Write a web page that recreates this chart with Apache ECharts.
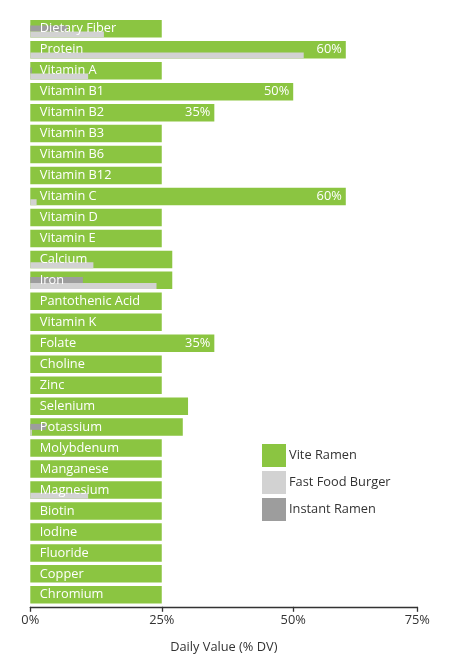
<!DOCTYPE html>
<html>
<head>
<meta charset="utf-8">
<script src="https://cdn.jsdelivr.net/npm/echarts@6.0.0/dist/echarts.min.js"></script>
<style>
  html, body { margin: 0; padding: 0; background: #fff; }
  #chart { width: 458px; height: 666px; }
</style>
</head>
<body>
<div id="chart"></div>
<script>
// nutrients, top to bottom
const nutrients = [
  'Dietary Fiber', 'Protein', 'Vitamin A', 'Vitamin B1', 'Vitamin B2', 'Vitamin B3',
  'Vitamin B6', 'Vitamin B12', 'Vitamin C', 'Vitamin D', 'Vitamin E', 'Calcium',
  'Iron', 'Pantothenic Acid', 'Vitamin K', 'Folate', 'Choline', 'Zinc',
  'Selenium', 'Potassium', 'Molybdenum', 'Manganese', 'Magnesium', 'Biotin',
  'Iodine', 'Fluoride', 'Copper', 'Chromium'
];

// % daily value
const viteRamen = [25, 60, 25, 50, 35, 25, 25, 25, 60, 25, 25, 27, 27, 25, 25, 35, 25, 25, 30, 29, 25, 25, 25, 25, 25, 25, 25, 25];
const fastFoodBurger = [14, 52, 11, 0, 0, 0, 0, 0, 1.2, 0, 0, 12, 24, 0, 0, 0, 0, 0, 0, 0.3, 0, 0, 11, 0, 0, 0, 0, 0];
const instantRamen = [7, 0, 0.3, 0, 0, 0, 0, 0, 0, 0, 0, 0, 10, 0, 0, 0, 0, 0, 0, 3, 0, 0, 0, 0, 0, 0, 0, 0];

// x axis ticks
const tickValues = [0, 25, 50, 73.6];
const tickLabels = ['0%', '25%', '50%', '75%'];

const GREEN = '#8BC541';
const LIGHT = '#D2D2D2';
const DARK = '#9D9D9D';
const FONT = 'Open Sans';
const FONT_SIZE = 12.8;

const gridBase = { left: 30.3, right: 40.7, top: 18.3, height: 587 };

function valueAxis(idx, visible) {
  return {
    type: 'value',
    gridIndex: idx,
    min: 0,
    max: 73.6,
    show: visible,
    splitLine: { show: false },
    axisLine: { show: visible, lineStyle: { color: '#333', width: 1.3 } },
    axisTick: { show: visible, length: 5, customValues: tickValues, lineStyle: { color: '#333', width: 1.3 } },
    axisLabel: {
      show: visible,
      customValues: tickValues,
      margin: 7,
      color: '#333',
      fontFamily: FONT,
      fontSize: FONT_SIZE,
      formatter: v => tickLabels[tickValues.indexOf(v)]
    },
    name: visible ? 'Daily Value (% DV)' : '',
    nameLocation: 'middle',
    nameGap: 34,
    nameTextStyle: { color: '#333', fontFamily: FONT, fontSize: FONT_SIZE },
    offset: visible ? 1.5 : 0
  };
}

let chartConfig = {
  animation: false,
  textStyle: { fontFamily: FONT },
  grid: [
    Object.assign({}, gridBase),
    // second grid shifted down so the thin bars sit on the bottom of the green bar
    Object.assign({}, gridBase, { top: gridBase.top + 2.75 })
  ],
  legend: {
    data: ['Vite Ramen', 'Fast Food Burger', 'Instant Ramen'],
    orient: 'vertical',
    left: 262,
    top: 444,
    padding: 0,
    itemWidth: 24,
    itemHeight: 23,
    itemGap: 4,
    icon: 'rect',
    textStyle: { color: '#333', fontFamily: FONT, fontSize: FONT_SIZE, padding: [0, 0, 0, -2] }
  },
  xAxis: [valueAxis(0, true), valueAxis(1, false)],
  yAxis: [
    {
      type: 'category',
      gridIndex: 0,
      data: nutrients,
      inverse: true,
      z: 10,
      axisLine: { show: false },
      axisTick: { show: false },
      axisLabel: {
        inside: true,
        margin: 9.5,
        color: '#fff',
        fontFamily: FONT,
        fontSize: FONT_SIZE,
        padding: [2, 0, 0, 0]
      }
    },
    {
      type: 'category',
      gridIndex: 1,
      data: nutrients,
      inverse: true,
      show: false
    }
  ],
  series: [
    {
      name: 'Vite Ramen',
      type: 'bar',
      xAxisIndex: 0,
      yAxisIndex: 0,
      data: viteRamen,
      barWidth: 17.5,
      itemStyle: { color: GREEN },
      label: {
        show: true,
        position: 'insideRight',
        distance: 4,
        color: '#fff',
        fontFamily: FONT,
        fontSize: FONT_SIZE,
        padding: [2, 0, 0, 0],
        formatter: p => (p.value >= 35 ? p.value + '%' : '')
      }
    },
    {
      name: 'Instant Ramen',
      type: 'bar',
      xAxisIndex: 1,
      yAxisIndex: 1,
      data: instantRamen,
      barWidth: 6,
      barGap: '0%',
      itemStyle: { color: DARK }
    },
    {
      name: 'Fast Food Burger',
      type: 'bar',
      xAxisIndex: 1,
      yAxisIndex: 1,
      data: fastFoodBurger,
      barWidth: 6,
      barGap: '0%',
      itemStyle: { color: LIGHT }
    }
  ]
};

let chart = echarts.init(document.getElementById('chart'));
chart.setOption(chartConfig);
window.addEventListener('resize', function () {
  chart.resize();
});
</script>
</body>
</html>
